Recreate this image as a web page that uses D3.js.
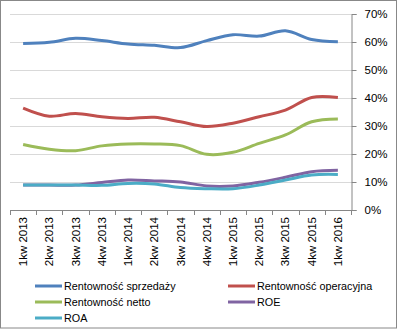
<!DOCTYPE html>
<html>
<head>
<meta charset="utf-8">
<script src="https://cdn.jsdelivr.net/npm/d3@7"></script>
<style>
  body { margin: 0; background: #fff; }
  text { font-family: "Liberation Sans", Arial, sans-serif; fill: #000; }
</style>
</head>
<body>
<div id="chart"></div>
<script>
// categories and series (percent)
const quarters = ["1kw 2013", "2kw 2013", "3kw 2013", "4kw 2013", "1kw 2014", "2kw 2014", "3kw 2014",
  "4kw 2014", "1kw 2015", "2kw 2015", "3kw 2015", "4kw 2015", "1kw 2016"]
const sprzedazy = [59.5, 59.9, 61.3, 60.5, 59.3, 58.8, 58.0, 60.5, 62.6, 62.1, 64.0, 60.9, 60.1]
const operacyjna = [36.4, 33.5, 34.5, 33.3, 32.7, 33.1, 31.5, 29.8, 31.0, 33.3, 35.7, 40.2, 40.2]
const netto = [23.4, 21.7, 21.2, 22.9, 23.6, 23.6, 23.0, 19.9, 20.6, 23.8, 26.8, 31.5, 32.5]
const roe = [8.9, 8.9, 8.9, 9.8, 10.7, 10.4, 10.0, 8.6, 8.6, 9.9, 11.7, 13.7, 14.2]
const roa = [8.9, 8.9, 8.9, 8.8, 9.5, 9.3, 8.0, 7.6, 7.6, 8.9, 10.7, 12.5, 12.7]
const yTicks = [0, 10, 20, 30, 40, 50, 60, 70]

const series = [
  {name: "Rentowność sprzedaży", values: sprzedazy, color: "#4F81BD"},
  {name: "Rentowność operacyjna", values: operacyjna, color: "#C0504D"},
  {name: "Rentowność netto", values: netto, color: "#9BBB59"},
  {name: "ROE", values: roe, color: "#8064A2"},
  {name: "ROA", values: roa, color: "#4BACC6"}
]

const width = 398, height = 330
const plot = {left: 10, right: 351, top: 14, bottom: 210}

const svg = d3.select("#chart").append("svg")
  .attr("width", width)
  .attr("height", height)

// outer border
svg.append("rect")
  .attr("x", 0.5).attr("y", 0.5)
  .attr("width", width - 2).attr("height", height - 2.5)
  .attr("fill", "none")
  .attr("stroke", "#888")

const x = d3.scaleBand()
  .domain(quarters)
  .range([plot.left, plot.right])

const y = d3.scaleLinear()
  .domain([0, 70])
  .range([plot.bottom, plot.top])

// gridlines
svg.append("g")
  .selectAll("line")
  .data(yTicks.filter(d => d > 0))
  .join("line")
    .attr("x1", plot.left).attr("x2", plot.right)
    .attr("y1", d => Math.round(y(d)) + 0.5)
    .attr("y2", d => Math.round(y(d)) + 0.5)
    .attr("stroke", "#d9d9d9")

// right y axis
const yAxis = svg.append("g")
  .attr("transform", `translate(${plot.right + 0.5},0)`)
  .call(d3.axisRight(y).tickValues(yTicks).tickFormat(d => d + "%").tickSize(5).tickPadding(8))
yAxis.select(".domain").attr("stroke", "#868686")
yAxis.selectAll(".tick line").attr("stroke", "#868686")
yAxis.selectAll("text").style("font-size", "11.5px").attr("font-family", null)

// bottom axis line + ticks between categories
svg.append("line")
  .attr("x1", plot.left).attr("x2", plot.right)
  .attr("y1", plot.bottom + 0.5).attr("y2", plot.bottom + 0.5)
  .attr("stroke", "#868686")

const bounds = quarters.map(q => x(q)).concat([plot.right])
svg.append("g")
  .selectAll("line")
  .data(bounds)
  .join("line")
    .attr("x1", d => Math.round(d) + 0.5).attr("x2", d => Math.round(d) + 0.5)
    .attr("y1", plot.bottom).attr("y2", plot.bottom + 5)
    .attr("stroke", "#868686")

// x labels, rotated
svg.append("g")
  .selectAll("text")
  .data(quarters)
  .join("text")
    .attr("transform", d => `translate(${x(d) + x.bandwidth() / 2},217) rotate(-90)`)
    .attr("text-anchor", "end")
    .attr("dy", "0.35em")
    .style("font-size", "11.5px")
    .text(d => d)

// lines
const line = d3.line()
  .x((d, i) => x(quarters[i]) + x.bandwidth() / 2)
  .y(d => y(d))
  .curve(d3.curveCatmullRom.alpha(0.5))

svg.append("g")
  .selectAll("path")
  .data(series)
  .join("path")
    .attr("d", d => line(d.values))
    .attr("fill", "none")
    .attr("stroke", d => d.color)
    .attr("stroke-width", 3)
    .attr("stroke-linejoin", "round")

// legend
const legend = svg.append("g")
  .selectAll("g")
  .data(series)
  .join("g")
    .attr("transform", (d, i) => `translate(${i % 2 == 0 ? 35 : 228},${286 + Math.floor(i / 2) * 16})`)

legend.append("line")
  .attr("x1", 0).attr("x2", 27)
  .attr("stroke", d => d.color)
  .attr("stroke-width", 3)

legend.append("text")
  .attr("x", 29)
  .attr("dy", "0.35em")
  .style("font-size", "10.8px")
  .text(d => d.name)
</script>
</body>
</html>
